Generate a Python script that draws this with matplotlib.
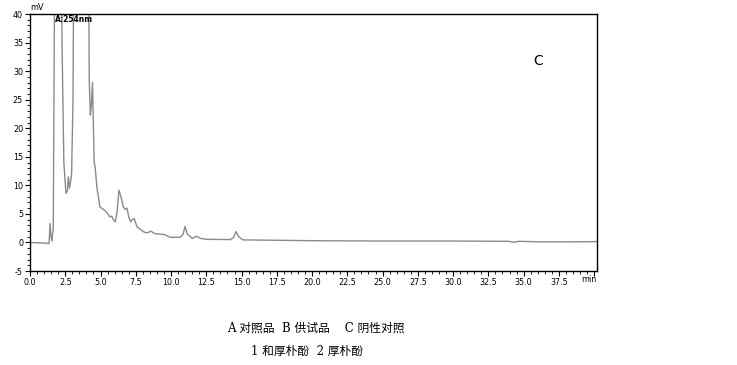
import matplotlib.pyplot as plt
from matplotlib.ticker import MultipleLocator

# chromatogram (min, mV); peaks above 40 are off scale
t = [0.0, 1.0, 1.35, 1.42, 1.5, 1.55, 1.65, 1.84, 2.05, 2.27, 2.4, 2.55, 2.65, 2.72,
     2.8, 2.87, 2.95, 3.05, 3.14, 3.6, 4.1, 4.2, 4.28, 4.35, 4.43, 4.55, 4.62,
     4.75, 4.85, 4.96, 5.2, 5.44, 5.65, 5.8, 5.9, 6.05, 6.18, 6.31, 6.45, 6.62,
     6.75, 6.88, 7.0, 7.14, 7.25, 7.38, 7.6, 8.1, 8.35, 8.57, 8.8, 9.0, 9.5,
     9.95, 10.64, 10.85, 10.99, 11.15, 11.5, 11.8, 12.1, 12.55, 14.2, 14.45,
     14.6, 14.8, 15.1, 20.3, 25.0, 30.0, 33.9, 34.3, 34.7, 35.5, 36.0, 38.0, 40.2]
mv = [0.0, -0.1, -0.2, 3.3, 0.8, 0.3, 2.5, 90.0, 110.0, 35.0, 14.0, 8.6, 9.0, 11.5,
      9.5, 10.5, 12.0, 25.0, 70.0, 60.0, 80.0, 28.5, 22.3, 24.0, 28.0, 14.0, 13.2,
      9.5, 8.0, 6.2, 5.8, 5.3, 4.5, 4.6, 4.0, 3.6, 5.5, 9.15, 8.0, 6.2,
      5.8, 6.0, 4.5, 3.6, 4.0, 4.2, 2.7, 1.8, 1.7, 2.0, 1.6, 1.5, 1.4,
      0.9, 0.9, 1.4, 2.8, 1.5, 0.7, 1.1, 0.7, 0.55, 0.5, 0.9,
      1.9, 1.0, 0.45, 0.3, 0.25, 0.25, 0.2, 0.05, 0.2, 0.15, 0.1, 0.1, 0.15]

fig = plt.figure(figsize=(7.37, 3.65), dpi=100)
ax = fig.add_axes([0.0407, 0.2575, 0.7693, 0.7041])
ax.plot(t, mv, color='#8a8a8a', lw=1.0)

ax.set_xlim(0, 40.2)
ax.set_ylim(-5, 40)
ax.xaxis.set_major_locator(MultipleLocator(2.5))
ax.xaxis.set_minor_locator(MultipleLocator(0.5))
ax.yaxis.set_major_locator(MultipleLocator(5))
ax.yaxis.set_minor_locator(MultipleLocator(1))
ax.xaxis.set_major_formatter(lambda v, p: '%.1f' % v if v < 39 else '')
ax.yaxis.set_major_formatter(lambda v, p: '%d' % v)
ax.tick_params(which='major', direction='out', length=3.5, width=0.8, labelsize=5.8, pad=1.5)
ax.tick_params(which='minor', direction='out', length=2, width=0.6)
for s in ax.spines.values():
    s.set_linewidth(1.0)

ax.text(0.0, 40.3, 'mV', fontsize=5.8, ha='left', va='bottom')
ax.text(39.6, -5.7, 'min', fontsize=5.8, ha='center', va='top')
ax.text(1.8, 39.8, 'A:254nm', fontsize=5.5, fontweight='bold', ha='left', va='top')
ax.text(36.0, 31.7, 'C', fontsize=10, ha='center', va='center')

fam = ['DejaVu Serif', 'Noto Sans CJK SC']
fig.text(0.4285, 0.101, 'A 对照品  B 供试品    C 阴性对照', fontsize=8.5,
         family=fam, ha='center', va='center')
fig.text(0.4165, 0.036, '1 和厚朴酚  2 厚朴酚', fontsize=8.5,
         family=fam, ha='center', va='center')

fig.savefig('out.png', dpi=100)
